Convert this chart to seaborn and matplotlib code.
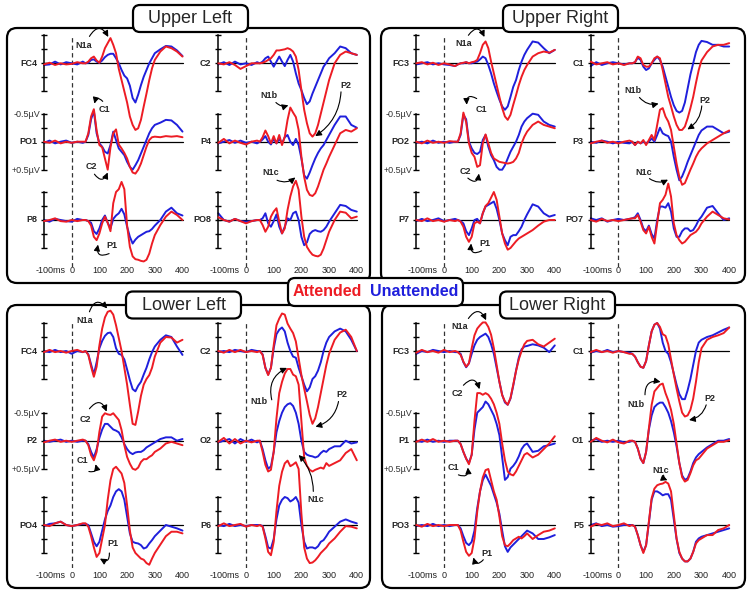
import matplotlib
matplotlib.use("Agg")
import matplotlib.pyplot as plt
from matplotlib.patches import FancyBboxPatch
from matplotlib.transforms import ScaledTranslation
import seaborn as sns

sns.set_theme(style="white")
plt.rcParams["font.family"] = ["Liberation Sans", "DejaVu Sans"]

W, H = 750, 594
RED = "#ed1c24"
BLUE = "#1f1fdc"

# time points (ms); amplitudes in microvolts, plotted negative-up
times = [-100, -80, -60, -40, -20, 0, 20, 40,
         50, 60, 70, 80, 90, 100, 110, 120,
         130, 140, 150, 160, 170, 180, 190, 200,
         210, 220, 230, 240, 250, 260, 270, 280,
         290, 300, 320, 340, 360, 380, 400]

# ---------------- Upper Left ----------------
ul_fc4_att = [0.02, -0.01, 0.03, 0.00, 0.02, 0.01, -0.02, 0.00,
              0.00, -0.03, -0.09, -0.12, -0.05, -0.01, -0.12, -0.27,
              -0.36, -0.45, -0.33, -0.18, 0.10, 0.30, 0.50, 0.70,
              0.95, 1.10, 1.19, 1.16, 1.01, 0.77, 0.54, 0.30,
              0.09, -0.06, -0.21, -0.30, -0.27, -0.21, -0.12]
ul_fc4_un = [0.03, 0.02, -0.03, 0.02, -0.02, 0.00, 0.02, -0.03,
             0.00, -0.01, -0.06, -0.07, -0.03, -0.01, -0.05, -0.11,
             -0.15, -0.17, -0.17, -0.09, 0.00, 0.12, 0.22, 0.27,
             0.40, 0.62, 0.70, 0.56, 0.39, 0.24, 0.12, 0.00,
             -0.09, -0.18, -0.25, -0.31, -0.30, -0.23, -0.13]
ul_po1_att = [0.00, 0.02, -0.02, 0.03, 0.00, 0.02, 0.00, 0.00,
              0.00, -0.15, -0.45, -0.58, -0.20, 0.06, 0.10, 0.30,
              0.50, 0.10, -0.15, -0.22, 0.05, 0.12, 0.20, 0.30,
              0.45, 0.55, 0.57, 0.50, 0.39, 0.24, 0.09, -0.03,
              -0.08, -0.09, -0.08, -0.10, -0.09, -0.10, -0.08]
ul_po1_un = [0.02, -0.02, 0.03, 0.00, -0.02, 0.02, 0.00, 0.02,
             0.00, -0.12, -0.40, -0.55, -0.15, 0.03, 0.09, 0.18,
             0.21, 0.06, -0.18, -0.03, 0.12, 0.18, 0.24, 0.36,
             0.45, 0.50, 0.42, 0.33, 0.21, 0.09, -0.03, -0.15,
             -0.24, -0.30, -0.34, -0.39, -0.38, -0.30, -0.18]
ul_p8_att = [0.02, 0.00, -0.03, 0.02, 0.03, 0.00, 0.02, 0.00,
             0.00, 0.02, 0.10, 0.30, 0.36, 0.24, 0.06, -0.06,
             0.05, 0.20, -0.30, -0.50, -0.55, -0.68, -0.55, 0.10,
             0.48, 0.65, 0.70, 0.71, 0.73, 0.74, 0.71, 0.60,
             0.42, 0.27, 0.09, -0.06, -0.15, -0.09, 0.00]
ul_p8_un = [0.00, 0.03, -0.02, 0.00, 0.02, 0.03, -0.02, 0.00,
            0.00, 0.02, 0.05, 0.20, 0.25, 0.15, 0.00, -0.08,
            0.05, 0.15, -0.02, -0.08, -0.12, -0.20, -0.10, 0.12,
            0.30, 0.42, 0.35, 0.30, 0.27, 0.24, 0.21, 0.20,
            0.16, 0.10, 0.00, -0.15, -0.22, -0.12, -0.08]
ul_c2_att = [0.00, 0.02, -0.02, 0.03, 0.10, 0.05, 0.00, 0.00,
             0.00, -0.01, -0.03, -0.06, -0.09, -0.15, -0.23, -0.23,
             -0.24, -0.25, -0.27, -0.25, -0.21, -0.12, 0.12, 0.48,
             0.83, 1.07, 1.25, 1.31, 1.25, 1.10, 0.90, 0.70,
             0.50, 0.30, 0.00, -0.15, -0.21, -0.18, -0.15]
ul_c2_un = [0.02, -0.02, 0.03, -0.03, 0.02, 0.00, 0.03, -0.02,
            0.00, -0.03, -0.09, -0.12, -0.03, 0.06, -0.03, -0.12,
            -0.03, 0.05, -0.06, -0.15, -0.03, 0.18, 0.36, 0.48,
            0.62, 0.73, 0.68, 0.54, 0.42, 0.30, 0.18, 0.06,
            -0.01, -0.09, -0.18, -0.30, -0.27, -0.18, -0.15]
ul_p4_att = [0.02, -0.05, 0.03, -0.02, 0.02, 0.05, 0.00, -0.02,
             0.00, -0.08, -0.20, -0.10, 0.03, -0.10, 0.03, -0.12,
             0.06, -0.09, -0.39, -0.61, -0.52, -0.44, -0.21, 0.27,
             0.63, 0.86, 0.95, 0.97, 0.92, 0.80, 0.65, 0.50,
             0.39, 0.27, 0.06, -0.15, -0.21, -0.18, -0.24]
ul_p4_un = [0.03, 0.00, -0.03, 0.02, -0.02, 0.02, 0.00, 0.03,
            0.00, -0.04, -0.10, 0.00, 0.05, -0.05, 0.03, -0.05,
            0.03, -0.08, -0.12, 0.00, 0.06, -0.05, 0.06, 0.30,
            0.60, 0.66, 0.55, 0.42, 0.30, 0.20, 0.12, 0.06,
            -0.03, -0.12, -0.30, -0.45, -0.45, -0.30, -0.25]
ul_po8_att = [-0.05, 0.00, 0.03, -0.02, 0.02, 0.06, 0.02, 0.00,
              0.00, 0.09, 0.21, 0.12, -0.06, -0.15, -0.21, 0.03,
              0.24, 0.15, -0.18, -0.42, -0.60, -0.70, -0.54, -0.06,
              0.30, 0.48, 0.56, 0.62, 0.64, 0.65, 0.62, 0.51,
              0.36, 0.21, 0.00, -0.15, -0.13, -0.03, -0.06]
ul_po8_un = [-0.12, 0.00, 0.03, -0.02, 0.02, 0.03, 0.02, 0.00,
             0.00, -0.03, -0.12, 0.06, 0.12, 0.02, -0.10, 0.12,
             0.24, 0.12, -0.03, 0.00, -0.12, -0.15, 0.00, 0.30,
             0.45, 0.40, 0.25, 0.20, 0.18, 0.20, 0.21, 0.18,
             0.12, 0.03, -0.12, -0.27, -0.25, -0.18, -0.15]

# ---------------- Upper Right ----------------
ur_fc3_att = [0.00, -0.02, 0.02, -0.01, 0.03, 0.00, 0.02, 0.05,
              0.02, 0.00, -0.01, -0.02, 0.00, -0.02, -0.03, -0.06,
              -0.18, -0.33, -0.39, -0.27, -0.03, 0.18, 0.39, 0.60,
              0.80, 0.95, 1.01, 0.92, 0.74, 0.57, 0.39, 0.24,
              0.12, 0.03, -0.12, -0.18, -0.21, -0.19, -0.24]
ur_fc3_un = [0.02, 0.00, -0.02, 0.02, 0.00, 0.02, 0.03, 0.05,
             0.02, 0.00, 0.00, -0.02, 0.00, 0.00, -0.02, -0.03,
             -0.07, -0.12, -0.09, 0.03, 0.18, 0.36, 0.51, 0.65,
             0.77, 0.83, 0.77, 0.60, 0.42, 0.30, 0.12, -0.03,
             -0.15, -0.24, -0.39, -0.37, -0.27, -0.18, -0.24]
ur_po2_att = [0.00, 0.03, -0.02, 0.02, 0.00, 0.02, -0.01, 0.00,
              0.00, -0.15, -0.52, -0.35, 0.03, 0.20, 0.27, 0.45,
              0.42, 0.03, -0.13, 0.03, 0.20, 0.30, 0.33, 0.36,
              0.37, 0.38, 0.39, 0.38, 0.36, 0.30, 0.20, 0.03,
              -0.09, -0.18, -0.30, -0.36, -0.30, -0.27, -0.24]
ur_po2_un = [0.02, 0.00, 0.03, -0.02, 0.02, 0.00, 0.02, 0.00,
             0.00, -0.12, -0.48, -0.40, 0.00, 0.12, 0.20, 0.22,
             0.18, -0.03, -0.12, 0.09, 0.24, 0.33, 0.45, 0.50,
             0.50, 0.42, 0.30, 0.18, 0.09, 0.00, -0.12, -0.27,
             -0.36, -0.42, -0.50, -0.48, -0.36, -0.30, -0.27]
ur_p7_att = [0.00, 0.02, -0.03, 0.02, 0.00, 0.03, 0.00, 0.02,
             0.00, 0.03, 0.12, 0.30, 0.39, 0.30, 0.06, 0.03,
             0.06, -0.12, -0.25, -0.30, -0.40, -0.50, -0.36, -0.06,
             0.24, 0.42, 0.53, 0.50, 0.44, 0.38, 0.33, 0.30,
             0.27, 0.24, 0.18, 0.10, 0.03, 0.00, 0.00]
ur_p7_un = [0.02, -0.02, 0.02, 0.00, -0.03, 0.02, 0.00, -0.02,
            0.00, 0.02, 0.06, 0.20, 0.27, 0.15, 0.00, -0.02,
            0.06, -0.12, -0.24, -0.27, -0.30, -0.33, -0.20, 0.00,
            0.24, 0.36, 0.45, 0.30, 0.27, 0.27, 0.20, 0.12,
            0.00, -0.10, -0.28, -0.24, -0.12, -0.06, -0.09]
ur_c1_att = [-0.03, 0.02, 0.00, -0.02, 0.02, 0.00, 0.03, 0.00,
             0.00, -0.02, -0.12, -0.09, 0.03, 0.06, 0.06, 0.00,
             -0.09, -0.12, -0.09, 0.12, 0.36, 0.60, 0.77, 0.95,
             1.10, 1.19, 1.19, 1.13, 0.98, 0.80, 0.60, 0.35,
             0.12, -0.05, -0.20, -0.30, -0.33, -0.33, -0.36]
ur_c1_un = [0.05, -0.02, 0.03, 0.00, -0.02, 0.00, 0.02, 0.00,
            0.00, -0.02, -0.10, -0.06, 0.06, 0.12, 0.09, 0.00,
            -0.06, -0.12, -0.06, 0.06, 0.24, 0.42, 0.60, 0.75,
            0.85, 0.88, 0.85, 0.70, 0.45, 0.20, 0.00, -0.20,
            -0.33, -0.40, -0.38, -0.33, -0.33, -0.30, -0.30]
ur_p3_att = [0.03, 0.00, -0.02, 0.02, 0.00, 0.03, 0.00, -0.02,
             0.00, 0.06, 0.00, 0.03, -0.03, 0.06, -0.03, -0.12,
             -0.03, -0.30, -0.57, -0.60, -0.45, -0.36, -0.21, 0.09,
             0.39, 0.63, 0.77, 0.74, 0.62, 0.50, 0.39, 0.27,
             0.18, 0.12, 0.03, -0.03, -0.09, -0.15, -0.20]
ur_p3_un = [0.00, 0.02, -0.02, 0.00, 0.03, 0.00, 0.02, 0.03,
            0.00, 0.06, 0.00, 0.03, 0.00, 0.03, 0.00, -0.06,
            0.00, -0.12, -0.25, -0.15, -0.12, -0.10, 0.00, 0.27,
            0.50, 0.69, 0.62, 0.50, 0.36, 0.24, 0.12, 0.00,
            -0.12, -0.20, -0.27, -0.27, -0.21, -0.15, -0.18]
ur_po7_att = [0.00, 0.03, -0.02, 0.02, 0.00, 0.02, 0.00, -0.02,
              -0.03, -0.03, -0.09, 0.03, 0.18, 0.24, 0.12, 0.30,
              0.42, 0.06, -0.30, -0.36, -0.45, -0.65, -0.42, 0.06,
              0.27, 0.36, 0.42, 0.39, 0.33, 0.27, 0.24, 0.21,
              0.15, 0.06, -0.06, -0.15, -0.09, -0.03, -0.01]
ur_po7_un = [-0.03, 0.00, -0.03, 0.03, 0.00, -0.02, 0.00, -0.02,
             -0.03, -0.05, -0.12, 0.00, 0.15, 0.20, 0.10, 0.25,
             0.33, 0.00, -0.24, -0.24, -0.22, -0.30, -0.15, 0.15,
             0.30, 0.30, 0.20, 0.15, 0.15, 0.20, 0.18, 0.10,
             0.00, -0.06, -0.22, -0.25, -0.12, 0.00, -0.03]

# ---------------- Lower Left ----------------
ll_fc4_att = [0.02, -0.02, 0.02, 0.00, 0.03, 0.00, -0.02, 0.02,
              0.00, 0.07, 0.28, 0.46, 0.28, -0.10, -0.40, -0.60,
              -0.70, -0.72, -0.65, -0.46, -0.23, 0.00, 0.30, 0.60,
              0.96, 1.30, 1.32, 1.08, 0.80, 0.60, 0.50, 0.43,
              0.30, 0.10, -0.15, -0.25, -0.24, -0.15, -0.20]
ll_fc4_un = [0.00, 0.02, -0.02, 0.02, 0.00, 0.05, 0.00, 0.02,
             0.00, 0.06, 0.24, 0.42, 0.20, -0.05, -0.18, -0.27,
             -0.32, -0.33, -0.25, -0.05, 0.05, 0.07, 0.15, 0.33,
             0.52, 0.68, 0.72, 0.62, 0.55, 0.42, 0.30, 0.15,
             0.02, -0.08, -0.20, -0.28, -0.25, -0.08, 0.07]
ll_p2_att = [0.03, 0.00, -0.02, 0.02, 0.00, 0.02, 0.00, -0.02,
             0.00, 0.08, 0.26, 0.35, 0.20, -0.16, -0.43, -0.49,
             -0.47, -0.46, -0.49, -0.43, -0.37, -0.19, 0.08, 0.29,
             0.41, 0.50, 0.52, 0.48, 0.38, 0.33, 0.33, 0.29,
             0.26, 0.20, 0.14, 0.05, 0.02, 0.05, 0.08]
ll_p2_un = [0.00, 0.02, 0.00, -0.02, 0.02, 0.00, 0.02, 0.00,
            0.00, 0.06, 0.20, 0.30, 0.15, -0.05, -0.20, -0.30,
            -0.30, -0.25, -0.20, -0.18, -0.15, -0.06, 0.06, 0.15,
            0.21, 0.24, 0.21, 0.20, 0.20, 0.17, 0.12, 0.09,
            0.06, 0.03, -0.03, -0.06, -0.06, 0.00, -0.03]
ll_po4_att = [0.00, 0.02, -0.03, -0.06, 0.00, 0.02, 0.00, -0.03,
              -0.03, 0.03, 0.20, 0.40, 0.57, 0.50, 0.25, 0.00,
              -0.45, -0.80, -1.00, -1.04, -0.98, -0.92, -0.75, -0.35,
              0.10, 0.40, 0.50, 0.55, 0.60, 0.62, 0.68, 0.71,
              0.60, 0.50, 0.35, 0.20, 0.12, 0.12, 0.15]
ll_po4_un = [0.02, -0.02, -0.03, -0.06, 0.00, 0.02, 0.00, -0.02,
             -0.02, 0.00, 0.15, 0.30, 0.38, 0.30, 0.10, -0.10,
             -0.25, -0.35, -0.50, -0.60, -0.64, -0.60, -0.45, -0.15,
             0.15, 0.30, 0.32, 0.33, 0.36, 0.42, 0.40, 0.33,
             0.27, 0.20, 0.10, 0.00, 0.03, 0.06, 0.10]
ll_c2_att = [0.00, 0.03, -0.02, 0.02, -0.02, 0.02, 0.00, 0.02,
             0.00, 0.07, 0.30, 0.43, 0.30, -0.10, -0.46, -0.58,
             -0.67, -0.65, -0.49, -0.40, -0.32, -0.17, 0.13, 0.43,
             0.67, 0.90, 1.14, 1.30, 1.20, 1.00, 0.75, 0.50,
             0.25, 0.05, -0.20, -0.33, -0.38, -0.25, 0.00]
ll_c2_un = [0.02, 0.00, 0.02, -0.02, 0.00, 0.02, -0.02, 0.00,
            0.00, 0.06, 0.30, 0.42, 0.30, -0.05, -0.30, -0.38,
            -0.42, -0.35, -0.15, 0.00, 0.10, 0.12, 0.30, 0.45,
            0.60, 0.72, 0.65, 0.50, 0.45, 0.35, 0.20, 0.00,
            -0.15, -0.25, -0.35, -0.40, -0.35, -0.20, 0.00]
ll_o2_att = [0.02, -0.05, 0.05, -0.03, 0.05, 0.00, 0.03, 0.00,
             0.00, 0.20, 0.43, 0.55, 0.52, 0.20, -0.40, -0.85,
             -1.05, -1.20, -1.28, -1.28, -1.18, -1.15, -1.00, -0.35,
             0.30, 0.45, 0.52, 0.55, 0.52, 0.50, 0.48, 0.50,
             0.40, 0.45, 0.40, 0.35, 0.22, 0.15, 0.35]
ll_o2_un = [0.03, 0.00, -0.03, 0.05, -0.03, 0.02, -0.02, 0.03,
            0.00, 0.15, 0.35, 0.50, 0.46, 0.20, -0.15, -0.35,
            -0.50, -0.60, -0.65, -0.67, -0.62, -0.50, -0.30, 0.00,
            0.20, 0.25, 0.27, 0.28, 0.30, 0.28, 0.22, 0.18,
            0.20, 0.15, 0.10, 0.10, 0.00, 0.05, 0.03]
ll_p6_att = [0.02, -0.03, 0.02, 0.00, -0.02, 0.03, 0.00, 0.02,
             0.00, 0.03, 0.24, 0.48, 0.54, 0.30, -0.25, -0.70,
             -0.95, -1.10, -1.15, -1.05, -1.08, -1.12, -1.00, -0.20,
             0.40, 0.60, 0.68, 0.67, 0.63, 0.57, 0.50, 0.45,
             0.40, 0.33, 0.24, 0.12, 0.02, 0.03, 0.06]
ll_p6_un = [0.00, 0.02, -0.02, 0.02, 0.00, 0.02, 0.00, 0.00,
            0.00, 0.02, 0.20, 0.40, 0.42, 0.25, -0.10, -0.35,
            -0.45, -0.50, -0.48, -0.42, -0.45, -0.50, -0.40, 0.00,
            0.30, 0.42, 0.40, 0.40, 0.42, 0.38, 0.30, 0.27,
            0.20, 0.12, 0.03, -0.06, -0.10, -0.06, -0.03]

# ---------------- Lower Right ----------------
lr_fc3_att = [0.03, -0.02, 0.02, 0.00, 0.03, -0.02, 0.02, 0.00,
              0.02, 0.07, 0.19, 0.28, 0.22, -0.05, -0.28, -0.40,
              -0.46, -0.51, -0.51, -0.43, -0.29, -0.05, 0.25, 0.55,
              0.79, 0.90, 0.96, 0.84, 0.60, 0.36, 0.15, 0.00,
              -0.12, -0.18, -0.20, -0.12, -0.08, -0.15, -0.22]
lr_fc3_un = [0.05, 0.00, 0.02, -0.02, 0.00, 0.02, 0.00, 0.02,
             0.02, 0.05, 0.20, 0.29, 0.22, 0.05, -0.10, -0.20,
             -0.25, -0.28, -0.31, -0.25, -0.12, 0.05, 0.30, 0.55,
             0.78, 0.92, 0.96, 0.85, 0.62, 0.35, 0.12, -0.03,
             -0.08, -0.09, -0.12, -0.10, -0.06, 0.02, -0.10]
lr_p1_att = [0.02, -0.02, 0.02, -0.03, 0.02, 0.00, 0.02, 0.00,
             0.00, 0.06, 0.20, 0.32, 0.42, 0.25, -0.35, -0.85,
             -0.85, -0.82, -0.85, -0.82, -0.75, -0.65, -0.50, -0.30,
             0.05, 0.35, 0.55, 0.60, 0.62, 0.55, 0.45, 0.35,
             0.25, 0.22, 0.30, 0.25, 0.15, 0.05, -0.08]
lr_p1_un = [0.00, 0.02, -0.02, 0.02, 0.00, 0.02, 0.00, 0.00,
            0.00, 0.06, 0.20, 0.32, 0.40, 0.25, -0.20, -0.50,
            -0.55, -0.60, -0.70, -0.65, -0.55, -0.45, -0.30, -0.10,
            0.30, 0.70, 0.65, 0.50, 0.45, 0.38, 0.28, 0.15,
            0.08, 0.05, 0.20, 0.18, 0.10, 0.08, 0.05]
lr_po3_att = [0.00, 0.03, -0.02, 0.02, 0.00, 0.02, 0.00, 0.00,
              0.00, 0.10, 0.30, 0.48, 0.55, 0.50, 0.24, -0.24,
              -0.60, -0.85, -0.98, -1.00, -0.80, -0.60, -0.45, -0.15,
              0.20, 0.36, 0.38, 0.33, 0.27, 0.24, 0.21, 0.24,
              0.20, 0.15, 0.25, 0.18, 0.12, 0.10, 0.06]
lr_po3_un = [0.02, 0.00, 0.02, -0.02, 0.02, 0.00, 0.02, 0.00,
             0.00, 0.06, 0.20, 0.32, 0.36, 0.30, 0.10, -0.30,
             -0.60, -0.80, -0.90, -0.80, -0.70, -0.55, -0.40, -0.20,
             0.10, 0.38, 0.48, 0.40, 0.35, 0.30, 0.25, 0.20,
             0.15, 0.10, 0.15, 0.25, 0.25, 0.22, 0.18]
lr_c1_att = [0.02, -0.02, 0.02, 0.00, 0.03, 0.00, 0.02, 0.05,
             0.05, 0.10, 0.20, 0.28, 0.30, 0.18, -0.10, -0.35,
             -0.47, -0.50, -0.43, -0.30, -0.27, -0.12, 0.15, 0.42,
             0.67, 0.90, 1.10, 1.17, 1.15, 1.05, 0.85, 0.55,
             0.20, -0.05, -0.20, -0.25, -0.28, -0.32, -0.42]
lr_c1_un = [0.03, 0.00, 0.02, -0.02, 0.02, 0.00, 0.02, 0.03,
            0.05, 0.10, 0.20, 0.28, 0.30, 0.18, -0.10, -0.35,
            -0.47, -0.50, -0.40, -0.15, 0.00, 0.05, 0.20, 0.40,
            0.60, 0.77, 0.86, 0.86, 0.70, 0.50, 0.25, 0.00,
            -0.15, -0.20, -0.25, -0.28, -0.33, -0.38, -0.42]
lr_o1_att = [0.02, -0.05, 0.00, 0.03, -0.02, 0.03, 0.05, 0.00,
             0.00, 0.02, 0.14, 0.32, 0.40, 0.20, -0.22, -0.64,
             -0.88, -0.94, -1.00, -1.02, -0.85, -0.72, -0.55, -0.30,
             0.05, 0.40, 0.65, 0.73, 0.70, 0.58, 0.44, 0.35,
             0.32, 0.26, 0.14, 0.08, 0.02, 0.02, -0.01]
lr_o1_un = [0.00, -0.03, 0.02, 0.00, 0.02, 0.00, 0.03, 0.02,
            0.00, 0.02, 0.14, 0.32, 0.40, 0.20, -0.20, -0.45,
            -0.60, -0.65, -0.68, -0.68, -0.60, -0.50, -0.35, -0.15,
            0.10, 0.40, 0.62, 0.70, 0.67, 0.55, 0.40, 0.30,
            0.24, 0.20, 0.12, 0.06, 0.00, 0.00, -0.03]
lr_p5_att = [0.03, -0.02, 0.00, -0.03, 0.02, 0.00, -0.03, 0.02,
             0.00, 0.03, 0.18, 0.36, 0.50, 0.36, -0.06, -0.48,
             -0.65, -0.71, -0.73, -0.74, -0.77, -0.74, -0.60, -0.18,
             0.24, 0.48, 0.60, 0.65, 0.65, 0.60, 0.48, 0.33,
             0.27, 0.24, 0.18, 0.18, 0.09, 0.06, 0.00]
lr_p5_un = [0.00, -0.03, 0.02, 0.00, 0.03, 0.02, 0.00, 0.00,
            0.00, 0.03, 0.18, 0.36, 0.48, 0.36, -0.04, -0.45,
            -0.60, -0.60, -0.57, -0.53, -0.55, -0.55, -0.45, -0.10,
            0.25, 0.50, 0.60, 0.65, 0.65, 0.60, 0.48, 0.30,
            0.24, 0.21, 0.18, 0.15, 0.12, 0.09, 0.06]

xtick_vals = [-100, 0, 100, 200, 300, 400]
xtick_text = ["-100ms", "0", "100", "200", "300", "400"]

# layout in pixels: box (x, y, w, h), title centre, column left edges,
# row baselines, dashed-line span, channels [column][row], annotations
quads = [
    dict(title="Upper Left", box=(7, 28, 363, 255), tc=(190.5, 18.5),
         cols=(44, 218.3), rows=(63.3, 141.7, 220), dash=(35, 267),
         chans=[[("FC4", ul_fc4_att, ul_fc4_un), ("PO1", ul_po1_att, ul_po1_un), ("P8", ul_p8_att, ul_p8_un)],
                [("C2", ul_c2_att, ul_c2_un), ("P4", ul_p4_att, ul_p4_un), ("PO8", ul_po8_att, ul_po8_un)]],
         notes=[(0, 0, "N1a", (45, -0.31), (64, -0.48), (132, -0.47), -0.85),
                (0, 1, "C1", (118, -0.58), (112, -0.72), (82, -0.68), 0.9),
                (0, 1, "C2", (72, 0.45), (82, 0.58), (130, 0.55), 0.85),
                (0, 2, "P1", (145, 0.46), (135, 0.6), (95, 0.44), -0.9),
                (1, 1, "N1b", (84, -0.83), (108, -0.7), (153, -0.65), 0.3),
                (1, 1, "P2", (361, -1.01), (343, -0.89), (250, -0.1), -0.25),
                (1, 2, "N1c", (90, -0.85), (112, -0.71), (178, -0.76), 0.3)]),
    dict(title="Upper Right", box=(381, 28, 364, 255), tc=(560.5, 18.5),
         cols=(416.3, 590.7), rows=(63.3, 141.7, 220), dash=(35, 267),
         chans=[[("FC3", ur_fc3_att, ur_fc3_un), ("PO2", ur_po2_att, ur_po2_un), ("P7", ur_p7_att, ur_p7_un)],
                [("C1", ur_c1_att, ur_c1_un), ("P3", ur_p3_att, ur_p3_un), ("PO7", ur_po7_att, ur_po7_un)]],
         notes=[(0, 0, "N1a", (72, -0.35), (88, -0.5), (146, -0.47), -0.85),
                (0, 1, "C1", (136, -0.57), (118, -0.77), (82, -0.66), 0.9),
                (0, 1, "C2", (76, 0.54), (86, 0.65), (126, 0.57), 0.9),
                (0, 2, "P1", (148, 0.42), (136, 0.55), (98, 0.42), -0.9),
                (1, 1, "N1b", (52, -0.91), (76, -0.79), (145, -0.68), 0.3),
                (1, 1, "P2", (313, -0.74), (301, -0.64), (249, -0.22), -0.25),
                (1, 2, "N1c", (90, -0.85), (112, -0.74), (179, -0.72), 0.3)]),
    dict(title="Lower Left", box=(7, 305, 363, 283), tc=(183.5, 305),
         cols=(44, 218.3), rows=(351, 440.7, 525), dash=(322, 568),
         chans=[[("FC4", ll_fc4_att, ll_fc4_un), ("P2", ll_p2_att, ll_p2_un), ("PO4", ll_po4_att, ll_po4_un)],
                [("C2", ll_c2_att, ll_c2_un), ("O2", ll_o2_att, ll_o2_un), ("P6", ll_p6_att, ll_p6_un)]],
         notes=[(0, 0, "N1a", (48, -0.54), (64, -0.7), (128, -0.76), -0.85),
                (0, 1, "C2", (48, -0.37), (64, -0.57), (126, -0.52), -0.85),
                (0, 1, "C1", (40, 0.35), (62, 0.55), (86, 0.42), 0.8),
                (0, 2, "P1", (149, 0.33), (136, 0.5), (102, 0.6), -0.9),
                (1, 1, "N1b", (45, -0.7), (93, -0.73), (148, -1.3), -0.4),
                (1, 1, "P2", (346, -0.82), (334, -0.7), (251, -0.25), -0.3),
                (1, 2, "N1c", (253, -0.45), (243, -0.6), (190, -1.25), 0.2)]),
    dict(title="Lower Right", box=(382, 305, 363, 283), tc=(557.5, 305),
         cols=(416.3, 590.7), rows=(351, 440.7, 525), dash=(322, 568),
         chans=[[("FC3", lr_fc3_att, lr_fc3_un), ("P1", lr_p1_att, lr_p1_un), ("PO3", lr_po3_att, lr_po3_un)],
                [("C1", lr_c1_att, lr_c1_un), ("O1", lr_o1_att, lr_o1_un), ("P5", lr_p5_att, lr_p5_un)]],
         notes=[(0, 0, "N1a", (58, -0.43), (88, -0.58), (152, -0.55), -0.85),
                (0, 1, "C2", (49, -0.85), (70, -0.99), (128, -0.92), -0.85),
                (0, 1, "C1", (34, 0.48), (52, 0.61), (86, 0.48), 0.8),
                (0, 2, "P1", (154, 0.5), (142, 0.62), (106, 0.58), -0.9),
                (1, 1, "N1b", (63, -0.64), (96, -0.82), (152, -1.05), -0.6),
                (1, 1, "P2", (331, -0.76), (317, -0.64), (255, -0.37), -0.3),
                (1, 2, "N1c", (151, -0.98), (163, -0.89), (177, -0.8), 0.3)]),
]

COL_W = 138.5
HALF = 28

fig = plt.figure(figsize=(W / 100, H / 100), dpi=100)


def px_axes(x0, ytop, w, h, **kw):
    return fig.add_axes([x0 / W, 1 - (ytop + h) / H, w / W, h / H], **kw)


for q in quads:
    # dashed stimulus-onset line, one per column
    for xc in q["cols"]:
        cax = px_axes(xc, q["dash"][0], COL_W, q["dash"][1] - q["dash"][0])
        cax.set_xlim(-100, 400)
        cax.axis("off")
        cax.axvline(0, color="#333333", lw=0.9, ls=(0, (3.5, 2.5)))

    axes = []
    for ci, xc in enumerate(q["cols"]):
        col_axes = []
        for ri, base in enumerate(q["rows"]):
            name, att, un = q["chans"][ci][ri]
            ax = px_axes(xc, base - HALF, COL_W, 2 * HALF)
            ax.patch.set_visible(False)
            ax.axhline(0, color="black", lw=0.9, zorder=1)
            sns.lineplot(x=times, y=un, ax=ax, color=BLUE, lw=1.4, errorbar=None, zorder=2)
            sns.lineplot(x=times, y=att, ax=ax, color=RED, lw=1.4, errorbar=None, zorder=3)
            for ln in ax.lines:
                ln.set_clip_on(False)
            ax.set_xlim(-100, 400)
            ax.set_ylim(0.5, -0.5)
            ax.set_xlabel("")
            ax.set_ylabel("")
            sns.despine(ax=ax, top=True, right=True, bottom=True)
            ax.spines["left"].set_color("black")
            ax.spines["left"].set_linewidth(1.1)
            ax.set_yticks([-0.5, -0.25, 0, 0.25, 0.5])
            if ci == 0 and ri == 1:
                ax.set_yticklabels(["-0.5\u00b5V", "", "", "", "+0.5\u00b5V"],
                                   fontsize=6.5, color="#333333")
            else:
                ax.set_yticklabels([])
            ax.tick_params(axis="y", left=True, direction="inout", length=5,
                           width=1, color="black", pad=0)
            if ri == 2:
                ax.set_xticks(xtick_vals)
                ax.set_xticklabels(xtick_text, fontsize=6.5, color="#222222")
                ax.tick_params(axis="x", bottom=False, length=0, pad=13)
                first = ax.get_xticklabels()[0]
                first.set_horizontalalignment("left")
                first.set_transform(first.get_transform() +
                                    ScaledTranslation(-0.085, 0, fig.dpi_scale_trans))
            else:
                ax.set_xticks([])
            ax.annotate(name, xy=(-100, 0), xytext=(-5, 0), textcoords="offset points",
                        ha="right", va="center", fontsize=6.5, fontweight="bold",
                        annotation_clip=False)
            col_axes.append(ax)
        axes.append(col_axes)

    for ci, ri, label, tpos, start, end, rad in q["notes"]:
        ax = axes[ci][ri]
        ax.text(tpos[0], tpos[1], label, ha="center", va="center", fontsize=6.5,
                fontweight="bold", clip_on=False, zorder=5)
        ax.annotate("", xy=end, xytext=start, annotation_clip=False,
                    arrowprops=dict(arrowstyle="-|>,head_length=0.3,head_width=0.15",
                                    color="black", lw=0.8, shrinkA=0, shrinkB=0,
                                    connectionstyle=f"arc3,rad={rad}"))

# frames, title tabs and legend tab drawn in pixel space
ov = fig.add_axes([0, 0, 1, 1], zorder=10)
ov.set_xlim(0, W)
ov.set_ylim(H, 0)
ov.axis("off")

for q in quads:
    x, y, w, h = q["box"]
    ov.add_patch(FancyBboxPatch((x, y), w, h, boxstyle="round,pad=0,rounding_size=10",
                                fc="none", ec="black", lw=1.6))
    cx, cy = q["tc"]
    ov.add_patch(FancyBboxPatch((cx - 57.5, cy - 13.5), 115, 27,
                                boxstyle="round,pad=0,rounding_size=7",
                                fc="white", ec="black", lw=1.6))
    ov.text(cx, cy, q["title"], ha="center", va="center", fontsize=13)

ov.add_patch(FancyBboxPatch((288, 278), 175, 28, boxstyle="round,pad=0,rounding_size=7",
                            fc="white", ec="black", lw=1.6))
ov.text(327.5, 292, "Attended", ha="center", va="center", fontsize=11.5,
        fontweight="bold", color=RED)
ov.text(414.5, 292, "Unattended", ha="center", va="center", fontsize=11.5,
        fontweight="bold", color=BLUE)

fig.savefig("out.png", dpi=100)
